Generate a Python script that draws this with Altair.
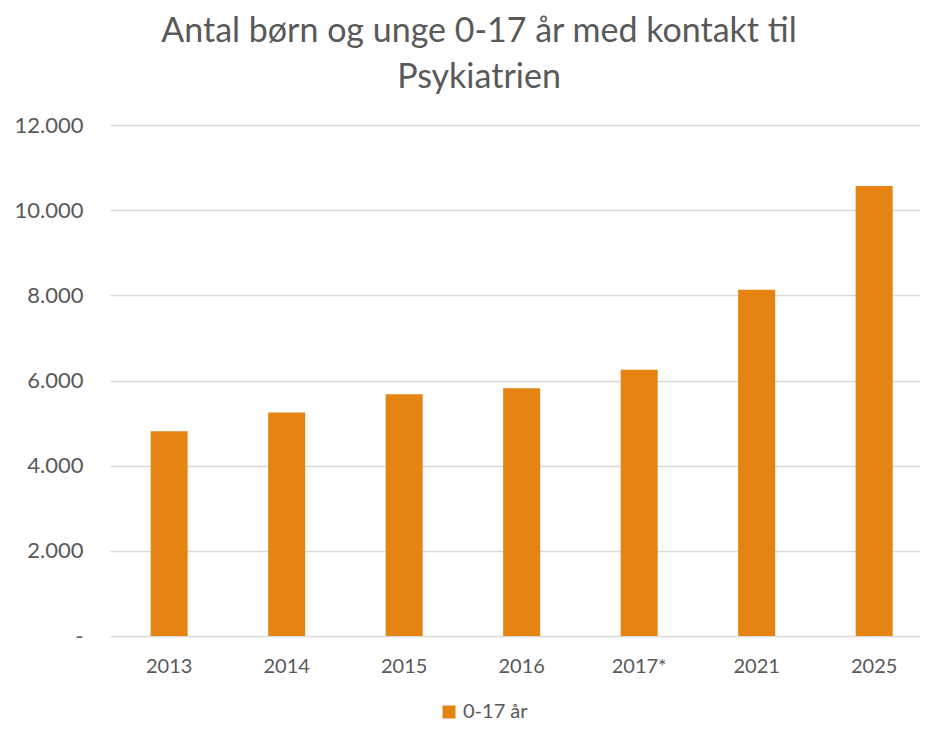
import altair as alt
import pandas as pd

years = ["2013", "2014", "2015", "2016", "2017*", "2021", "2025"]
values = [4810, 5250, 5680, 5820, 6250, 8130, 10570]
series = ["0-17 år"] * len(years)

df = pd.DataFrame({"year": years, "value": values, "series": series})

FONT = "Lato"
GREY = "#595959"
ORANGE = "#E58412"

chart = alt.Chart(df).mark_bar(color=ORANGE).encode(
    x=alt.X("year:N", sort=years, title=None,
            scale=alt.Scale(paddingInner=0.685, paddingOuter=0.2893, align=0.598),
            axis=alt.Axis(labelAngle=0, labelFontSize=20, labelColor=GREY, labelFont=FONT,
                          ticks=False, domain=False, labelPadding=20, grid=False)),
    y=alt.Y("value:Q", title=None,
            scale=alt.Scale(domain=[0, 12000], nice=False),
            axis=alt.Axis(values=[0, 2000, 4000, 6000, 8000, 10000, 12000],
                          labelExpr="datum.value == 0 ? '-' : replace(format(datum.value, ','), ',', '.')",
                          labelFontSize=22, labelColor=GREY, labelFont=FONT,
                          ticks=False, domain=False, labelPadding=27,
                          gridColor="#D9D9D9", gridWidth=1.3)),
    color=alt.Color("series:N", title=None,
                    scale=alt.Scale(domain=["0-17 år"], range=[ORANGE]),
                    legend=alt.Legend(orient="none", legendX=329, legendY=577,
                                      symbolType="square", symbolSize=169,
                                      symbolStrokeWidth=0, labelFontSize=20,
                                      labelColor=GREY, labelFont=FONT, labelOffset=4,
                                      padding=0)),
).properties(
    width=810,
    height=511,
    title=alt.Title(
        text=["Antal børn og unge 0-17 år med kontakt til", "Psykiatrien"],
        fontSize=34, font=FONT, fontWeight="normal", color=GREY,
        lineHeight=46, anchor="middle", dx=-36, dy=1, offset=20,
    ),
    padding={"left": 102, "top": 117, "right": 0, "bottom": 87},
    autosize=alt.AutoSizeParams(type="none"),
).configure_view(stroke=None)

chart.save("out.html", embed_options={"renderer": "svg", "actions": False})
